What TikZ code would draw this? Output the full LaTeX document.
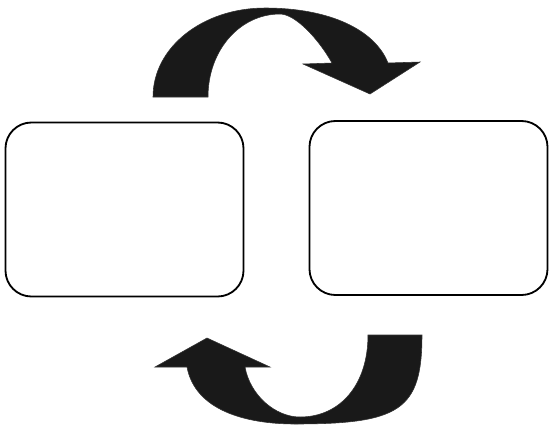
\documentclass[tikz,border=0pt]{standalone}
\usepackage{tikz}
\usetikzlibrary{positioning}
\tikzset{
  stagebox/.style={
    draw, rounded corners=0.65cm, line width=1.3pt,
    minimum width=5.95cm, minimum height=4.35cm, fill=white
  },
  cyclearrow/.style={fill=black!90, draw=black!80, line width=0.4pt},
}

\begin{document}
\begin{tikzpicture}[x=0.025cm, y=-0.025cm]
  \useasboundingbox (0,0) rectangle (549,424);

  % Boxes
  \node[stagebox] (left) at (124.5,209.5) {};
  \node[stagebox] (right) at (428.5,208) {};

  % Top arrow (left box to right box)
  \fill[cyclearrow] (153,97) .. controls (153,47) and (203,8) .. (265,8)
    .. controls (330,8) and (375,30) .. (388,63)
    -- (420,62) -- (370,94) -- (303,64) -- (332,63)
    .. controls (318,38) and (295,14) .. (280,14)
    .. controls (240,14) and (208,50) .. (208,97) -- cycle;

  % Bottom arrow (right box to left box)
  \fill[cyclearrow] (422,335) .. controls (422,410) and (400,424) .. (295,424)
    .. controls (245,424) and (195,410) .. (187,367)
    -- (155,367) -- (207,338) -- (270,367) -- (245,367)
    .. controls (250,395) and (275,417) .. (300,417)
    .. controls (340,417) and (368,385) .. (368,335) -- cycle;
\end{tikzpicture}
\end{document}
